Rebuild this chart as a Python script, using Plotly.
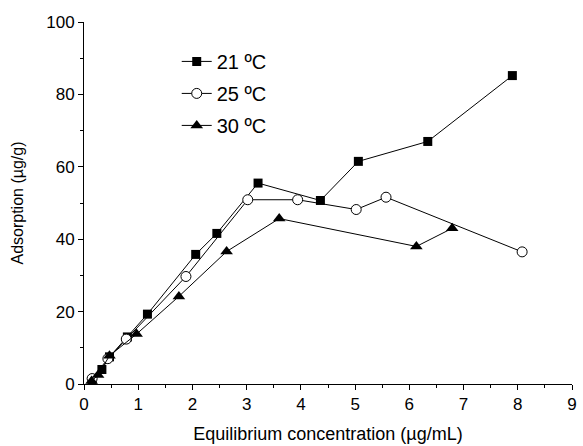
import plotly.graph_objects as go

x21 = [0.15, 0.33, 0.47, 0.8, 1.17, 2.06, 2.45, 3.21, 4.36, 5.06, 6.34, 7.9]
y21 = [1.0, 4.0, 7.5, 13.0, 19.3, 35.8, 41.6, 55.5, 50.7, 61.5, 67.0, 85.2]
x25 = [0.15, 0.44, 0.78, 1.88, 3.02, 3.94, 5.02, 5.57, 8.08]
y25 = [1.5, 7.0, 12.4, 29.7, 50.9, 50.9, 48.2, 51.6, 36.5]
x30 = [0.14, 0.26, 0.47, 0.97, 1.75, 2.63, 3.6, 6.13, 6.79]
y30 = [0.8, 2.5, 7.8, 13.8, 24.2, 36.6, 45.7, 38.0, 43.0]
names = ["21 ºC", "25 ºC", "30 ºC"]

fig = go.Figure()
fig.add_trace(go.Scatter(x=x21, y=y21, name=names[0], mode="lines+markers", legendgroup="a",
                         line=dict(color="black", width=1),
                         marker=dict(symbol="square", size=9, color="black")))
fig.add_trace(go.Scatter(x=x25, y=y25, name=names[1], mode="lines+markers", legendgroup="b",
                         line=dict(color="black", width=1),
                         marker=dict(symbol="circle", size=10, color="white",
                                     line=dict(color="black", width=1))))
fig.add_trace(go.Scatter(x=x30, y=y30, name=names[2], mode="lines+markers", legendgroup="c",
                         line=dict(color="black", width=1),
                         marker=dict(symbol="triangle-up", size=11, color="black")))

font = "Liberation Sans, Arial, sans-serif"
fig.update_layout(
    width=583, height=446,
    margin=dict(l=84, r=6, t=22, b=60),
    paper_bgcolor="white", plot_bgcolor="white",
    font=dict(family=font, size=17, color="black"),
    showlegend=True,
    legend=dict(x=0.19, y=0.945, xanchor="left", yanchor="top",
                bgcolor="rgba(0,0,0,0)", font=dict(size=20),
                tracegroupgap=3),
    xaxis=dict(range=[0, 9], dtick=1, showline=True, linecolor="black", linewidth=1,
               ticks="outside", ticklen=5, tickcolor="black", showgrid=False, zeroline=False,
               minor=dict(dtick=0.5, ticks="outside", ticklen=3, tickcolor="black", showgrid=False),
               title=dict(text="Equilibrium concentration (µg/mL)", font=dict(size=18), standoff=13)),
    yaxis=dict(range=[0, 100], dtick=20, showline=True, linecolor="black", linewidth=1,
               ticks="outside", ticklen=5, tickcolor="black", showgrid=False, zeroline=False,
               minor=dict(dtick=10, ticks="outside", ticklen=3, tickcolor="black", showgrid=False),
               title=dict(text="Adsorption (µg/g)", font=dict(size=16), standoff=18)),
)
fig.write_html("out.html")
